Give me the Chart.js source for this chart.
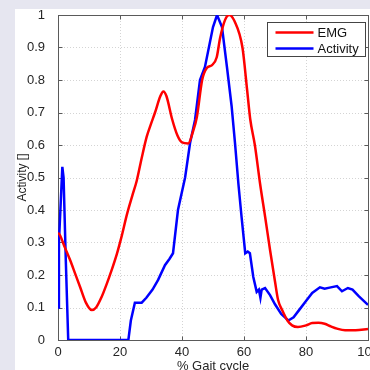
<!DOCTYPE html>
<html><head><meta charset="utf-8">
<script src="https://cdn.jsdelivr.net/npm/chart.js@4/dist/chart.umd.min.js"></script>
<style>
html,body{margin:0;padding:0;background:#e6e6f0;width:370px;height:370px;overflow:hidden}
#wrap{position:absolute;left:15px;top:9px;width:355px;height:361px;background:#fff}
canvas{display:block}
</style></head><body>
<div id="wrap"><canvas id="c" width="355" height="361"></canvas></div>
<script>
const seriesLabels = ['EMG', 'Activity'];
const emgX = [0,0.6,2.2,3.9,5.5,7.1,9,10.9,12.3,14.1,15.7,17.3,19,20.5,22.2,24,25.4,27,28.6,30,31.3,33,34,35,36.8,38.5,40,42,43.5,44.8,46.5,48,49.7,51.2,52.3,53.9,55.2,57,59.5,61,62,63.5,65.2,66.8,68.4,70,71,72.3,74,75.5,77.4,80,82,84,86,88,90,92.6,96,100];
const emgY = [0.33,0.323,0.285,0.246,0.205,0.164,0.115,0.092,0.1,0.133,0.172,0.215,0.265,0.318,0.385,0.445,0.49,0.56,0.625,0.665,0.70,0.75,0.765,0.75,0.68,0.63,0.608,0.605,0.64,0.686,0.8,0.837,0.846,0.87,0.93,0.985,1.0,0.98,0.9,0.77,0.68,0.6,0.48,0.38,0.277,0.18,0.123,0.092,0.06,0.045,0.04,0.045,0.052,0.053,0.05,0.042,0.035,0.03,0.03,0.034];
const actX = [0,0.3,1.4,1.8,2.5,3.3,22.7,23.5,24.8,27,28.5,30.5,32.3,34.5,36,37.1,38.7,41,42.6,44.2,45.8,47.4,50,51.3,52.9,54.5,56,57.1,58.2,59.2,60.4,61.2,61.9,63,64.1,64.8,65.3,65.7,66.8,68.4,70,72,74.3,76,78,80,82,84.5,86,88,90,91.6,93.5,95,97,100];
const actY = [0.1,0.3,0.533,0.5,0.25,0,0,0.06,0.115,0.115,0.13,0.155,0.185,0.23,0.25,0.267,0.4,0.5,0.606,0.677,0.8,0.84,0.963,1.0,0.963,0.84,0.72,0.606,0.48,0.38,0.267,0.272,0.267,0.194,0.148,0.155,0.13,0.155,0.16,0.138,0.11,0.08,0.06,0.07,0.095,0.12,0.145,0.162,0.158,0.162,0.166,0.15,0.16,0.155,0.135,0.108];
const xTicks = [0,20,40,60,80,100];
const yTicks = [0,0.1,0.2,0.3,0.4,0.5,0.6,0.7,0.8,0.9,1];
const xTitle = '% Gait cycle';
const yTitle = 'Activity []';

const FONT = 'Liberation Sans, Arial, Helvetica, sans-serif';
const pts = (xs, ys) => xs.map((x, i) => ({x: x, y: ys[i]}));

const frame = {
  id: 'frame',
  beforeDatasetsDraw(chart) {
    const {ctx, chartArea: a, scales: {x, y}} = chart;
    ctx.save();
    ctx.strokeStyle = '#d4d4d4';
    ctx.lineWidth = 1;
    ctx.setLineDash([1, 2]);
    xTicks.forEach(v => { const p = Math.round(x.getPixelForValue(v)) + 0.5; ctx.beginPath(); ctx.moveTo(p, a.top); ctx.lineTo(p, a.bottom); ctx.stroke(); });
    yTicks.forEach(v => { const p = Math.round(y.getPixelForValue(v)) + 0.5; ctx.beginPath(); ctx.moveTo(a.left, p); ctx.lineTo(a.right, p); ctx.stroke(); });
    ctx.setLineDash([]);
    ctx.strokeStyle = '#5a5a5a';
    const L = Math.round(a.left) + 0.5, R = Math.round(a.right) + 0.5, T = Math.round(a.top) + 0.5, B = Math.round(a.bottom) + 0.5;
    ctx.strokeRect(L, T, R - L, B - T);
    xTicks.forEach(v => { const p = Math.round(x.getPixelForValue(v)) + 0.5; ctx.beginPath(); ctx.moveTo(p, B); ctx.lineTo(p, B - 4); ctx.moveTo(p, T); ctx.lineTo(p, T + 4); ctx.stroke(); });
    yTicks.forEach(v => { const p = Math.round(y.getPixelForValue(v)) + 0.5; ctx.beginPath(); ctx.moveTo(L, p); ctx.lineTo(L + 4, p); ctx.moveTo(R, p); ctx.lineTo(R - 4, p); ctx.stroke(); });
    ctx.restore();
  },
  afterDatasetsDraw(chart) {
    const {ctx} = chart;
    const bx = 252.5, by = 13.5, bw = 98, bh = 34;
    ctx.save();
    ctx.fillStyle = '#fff';
    ctx.fillRect(bx, by, bw, bh);
    ctx.strokeStyle = '#444';
    ctx.lineWidth = 1;
    ctx.strokeRect(bx, by, bw, bh);
    chart.data.datasets.forEach((ds, i) => {
      const cy = by + 10 + i * 16;
      ctx.strokeStyle = ds.borderColor;
      ctx.lineWidth = 2.5;
      ctx.beginPath(); ctx.moveTo(bx + 8, cy); ctx.lineTo(bx + 46, cy); ctx.stroke();
      ctx.fillStyle = '#111';
      ctx.font = '13px ' + FONT;
      ctx.textBaseline = 'middle';
      ctx.textAlign = 'left';
      ctx.fillText(ds.label, bx + 50, cy + 0.5);
    });
    ctx.restore();
  }
};

new Chart(document.getElementById('c'), {
  type: 'line',
  data: {
    datasets: [
      {label: seriesLabels[0], data: pts(emgX, emgY), borderColor: '#ff0000', borderWidth: 2.5, pointRadius: 0, cubicInterpolationMode: 'monotone', fill: false},
      {label: seriesLabels[1], data: pts(actX, actY), borderColor: '#0000ff', borderWidth: 2.5, pointRadius: 0, tension: 0, fill: false}
    ]
  },
  options: {
    responsive: false,
    animation: false,
    layout: {padding: {top: 6, right: 2, bottom: 0, left: 0}},
    plugins: {legend: {display: false}, tooltip: {enabled: false}},
    scales: {
      x: {
        type: 'linear', min: 0, max: 100,
        afterBuildTicks: s => { s.ticks = xTicks.map(v => ({value: v})); },
        afterFit: s => { s.height = 30; s.paddingLeft = 0; s.paddingRight = 0; },
        ticks: {color: '#262626', font: {family: FONT, size: 13}, padding: -3, maxRotation: 0, autoSkip: false},
        grid: {display: false},
        border: {display: false},
        title: {display: true, text: xTitle, color: '#262626', font: {family: FONT, size: 13}, padding: {top: 0, bottom: -4}}
      },
      y: {
        type: 'linear', min: 0, max: 1,
        afterBuildTicks: s => { s.ticks = yTicks.map(v => ({value: v})); },
        afterFit: s => { s.width = 43; s.paddingTop = 0; s.paddingBottom = 0; },
        ticks: {color: '#262626', font: {family: FONT, size: 13}, padding: 5, autoSkip: false, callback: v => String(v)},
        grid: {display: false},
        border: {display: false},
        title: {display: true, text: yTitle, color: '#262626', font: {family: FONT, size: 12}, padding: {top: 0, bottom: 0}}
      }
    }
  },
  plugins: [frame]
});
</script>
</body></html>
